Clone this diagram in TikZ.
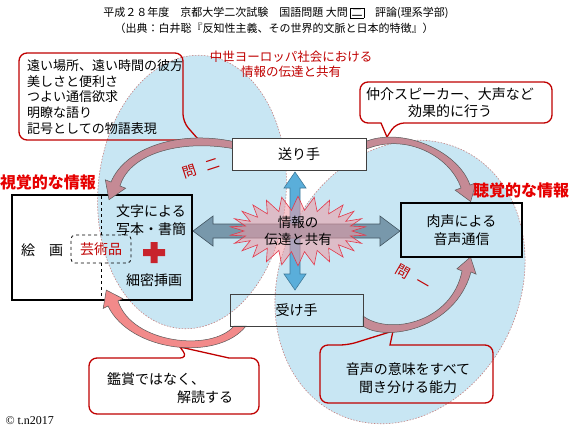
\documentclass[tikz,border=0pt]{standalone}
\usepackage{fontspec}
\setmainfont{Noto Sans CJK JP}
\newfontfamily\copyfont{Liberation Serif}
\usetikzlibrary{shapes.symbols}

\definecolor{ovalBlue}{HTML}{C8E6F3}
\definecolor{ovalEdge}{HTML}{C48484}
\definecolor{noteRed}{HTML}{C00000}
\definecolor{labelRed}{HTML}{E60000}
\definecolor{bendMauve}{HTML}{C58A95}
\definecolor{bendSalmon}{HTML}{F28A8A}
\definecolor{shaftGray}{HTML}{7090A4}
\definecolor{shaftBlue}{HTML}{5AAEDA}
\definecolor{burstPink}{HTML}{F09AA4}
\definecolor{burstRed}{HTML}{E2384A}
\definecolor{crossRed}{HTML}{C8242C}

\tikzset{
  oval/.style={fill=ovalBlue},
  ovaledge/.style={draw=ovalEdge, line width=.6pt, dash pattern=on 1.5pt off 1.5pt},
  box/.style={draw=black!75, line width=.8pt, minimum height=32pt, inner sep=0pt},
  note/.style={draw=noteRed, line width=1.3pt, rounded corners=8pt},
  bendband/.style={draw=black!65, line width=.5pt, fill=bendMauve},
  redlabel/.style={text=labelRed, font=\fontsize{16}{18}\selectfont\bfseries},
}

\begin{document}
\begin{tikzpicture}[x=1pt, y=-1pt, font=\fontsize{14}{18}\selectfont]
  \def\ax{295}
  \def\ay{231}
  \useasboundingbox (0,0) rectangle (576,432);
  \fill[white] (0,0) rectangle (576,432);

  % the two ovals
  \fill[oval, rotate around={-5:(192,192)}] (192,192) ellipse [x radius=94, y radius=137];
  \fill[oval, rotate around={-25:(400,282)}] (400,282) ellipse [x radius=120, y radius=146];
  \draw[ovaledge, rotate around={-5:(192,192)}] (192,192) ellipse [x radius=94, y radius=137];
  \draw[ovaledge, rotate around={-25:(400,282)}] (400,282) ellipse [x radius=120, y radius=146];

  % picture box on the left
  \node[draw, line width=1.4pt, minimum width=180pt, minimum height=105pt] (picBox) at (102,247.5) {};
  \node[draw, dashed, line width=.8pt, rounded corners=4pt, minimum width=60pt,
        minimum height=28pt, inner sep=0pt, text=noteRed] (artBox) at (101,249) {芸術品};
  \draw[dashed, line width=1pt] (artBox.north) -- (artBox.north |- picBox.north)
      (artBox.south) -- (artBox.south |- picBox.south);
  \node (picText) at (42,250) {絵\hspace{1em}画};
  \node[align=center] (scriptText) at (151,220) {文字による\\写本・書簡};
  \node (miniText) at (154,280) {細密挿画};
  \fill[crossRed] (143,249) rectangle (165,256) (150.5,242) rectangle (157.5,263);

  % callouts
  \draw[note] (19,96) -- (19,53) -- (183,53) -- (183,122) [sharp corners] -- (198,139)
      -- (176,140) [rounded corners=8pt] -- (19,140) -- cycle;
  \draw[note] (456,82) -- (552,82) -- (552,123) -- (396,123) [sharp corners] -- (387,137)
      -- (381,123) [rounded corners=8pt] -- (360,123) -- (360,82) -- cycle;
  \draw[note] (89,390) -- (89,358) -- (188,358) [sharp corners] -- (180,347)
      -- (229,358) [rounded corners=8pt] -- (259,358) -- (259,414) -- (89,414) -- cycle;
  \draw[note] (320,375) -- (320,345) -- (348,345) [sharp corners] -- (393,331)
      -- (390,345) [rounded corners=8pt] -- (493,345) -- (493,403) -- (320,403) -- cycle;

  \node[align=left, anchor=west, inner sep=0pt, font=\fontsize{13}{15.7}\selectfont]
      (noteFar) at (27,97) {遠い場所、遠い時間の彼方\\美しさと便利さ\\つよい通信欲求\\明瞭な語り\\記号としての物語表現};
  \node[align=center, font=\fontsize{14}{17}\selectfont] (noteVoice) at (450,103) {仲介スピーカー、大声など\\効果的に行う};
  \node[align=left, anchor=west, inner sep=0pt] (noteRead) at (107,388) {鑑賞ではなく、\\\hspace*{5em}解読する};
  \node[align=center] (noteHear) at (408,378) {音声の意味をすべて\\聞き分ける能力};

  % curved arrows
  \filldraw[bendband] (240,143) .. controls (180,128) and (125,148) .. (111,182)
      -- (105.3,179.8) -- (109,199.7) -- (125.7,188.2) -- (120,186)
      .. controls (130,152) and (185,138) .. (240,150) -- cycle;
  \filldraw[bendband] (360,144) .. controls (398,124) and (458,150) .. (470,185)
      -- (475.9,182.9) -- (470.7,201.6) -- (455.1,190.1) -- (461,188)
      .. controls (450,155) and (402,130) .. (360,152) -- cycle;
  \filldraw[bendband] (363,326) .. controls (385,342) and (455,330) .. (471,272)
      -- (476.1,274.2) -- (470.5,257) -- (456.9,268.8) -- (462,271)
      .. controls (452,322) and (390,336) .. (363,316) -- cycle;
  \filldraw[bendband, fill=bendSalmon] (246,326) .. controls (218,362) and (130,352) .. (108,306)
      -- (103.2,308.4) -- (106.3,290.1) -- (122.8,298.6) -- (118,301)
      .. controls (132,344) and (212,352) .. (234,326) -- cycle;

  % sender, receiver, voice
  \node[box, fill=white, minimum width=134pt] (sender) at (299,154) {送り手};
  \node[box, minimum width=133pt] (receiver) at (296.5,310) {受け手};
  \node[box, draw=black, line width=1.6pt, minimum width=121pt, minimum height=54pt,
        align=center] (voice) at (461.5,230) {肉声による\\音声通信};

  % block arrows through the centre
  \filldraw[fill=shaftBlue, draw=shaftBlue!70!black, line width=.6pt]
      (\ax,172) -- (\ax+11,188) -- (\ax+5,188) -- (\ax+5,274) -- (\ax+11,274) -- (\ax,290)
      -- (\ax-11,274) -- (\ax-5,274) -- (\ax-5,188) -- (\ax-11,188) -- cycle;
  \filldraw[fill=shaftGray, fill opacity=.9, draw=shaftGray!60!black, line width=.6pt]
      (193,\ay) -- (213,\ay-15) -- (213,\ay-7) -- (380,\ay-7) -- (380,\ay-15) -- (400,\ay)
      -- (380,\ay+15) -- (380,\ay+7) -- (213,\ay+7) -- (213,\ay+15) -- cycle;
  \node[starburst, starburst points=26, starburst point height=14pt, random starburst=0,
        minimum width=136pt, minimum height=64pt, inner sep=0pt, align=center,
        fill=burstPink, fill opacity=.55, text opacity=1, draw=burstRed, line width=.6pt,
        font=\fontsize{13.5}{17}\selectfont] (hub) at (298,231) {情報の\\伝達と共有};

  % labels
  \node[redlabel] (seeLabel) at (48,182) {視覚的な情報};
  \node[redlabel] (hearLabel) at (521,190) {聴覚的な情報};
  \node[text=noteRed, rotate=18] (askTwo) at (201,168) {問\hspace{.7em}二};
  \node[text=noteRed, rotate=-30] (askOne) at (413,278) {問\hspace{.7em}一};
  \node[text=noteRed, align=center, font=\fontsize{12.5}{15}\selectfont]
      (eraLabel) at (291,64) {中世ヨーロッパ社会における\\情報の伝達と共有};

  % title and credit
  \setlength{\fboxsep}{1pt}
  \node[font=\fontsize{11}{13}\selectfont] (title) at (276,13)
      {平成２８年度　京都大学二次試験　国語問題 大問 \fbox{二}\quad 評論(理系学部)};
  \node[font=\fontsize{11}{13}\selectfont] (source) at (274,28)
      {（出典：白井聡『反知性主義、その世界的文脈と日本的特徴』）};
  \node[anchor=west, font=\copyfont\fontsize{12}{14}\selectfont] (credit) at (2,421) {© t.n2017};
\end{tikzpicture}
\end{document}
